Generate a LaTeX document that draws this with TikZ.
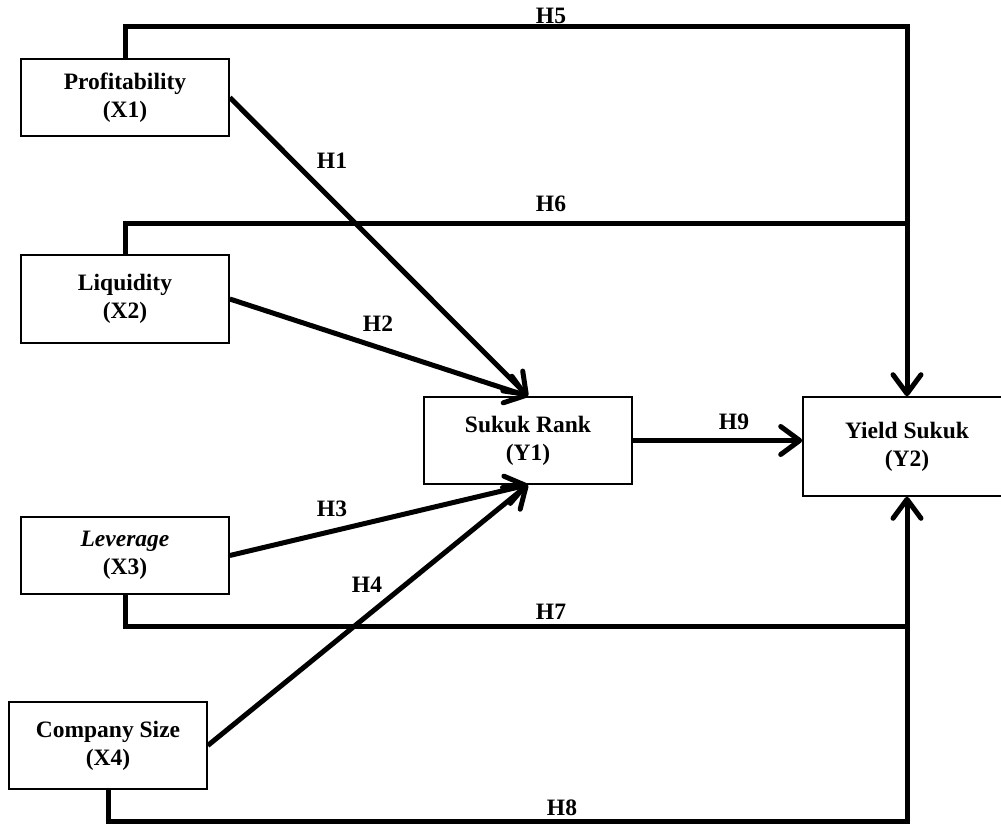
\documentclass[tikz,border=0pt]{standalone}
\usepackage{fontspec}
\setmainfont{Liberation Serif}
\usetikzlibrary{arrows.meta}
\begin{document}
\begin{tikzpicture}[x=1pt,y=-1pt,
  varbox/.style={draw, line width=1.6pt, minimum width=208pt, inner sep=0pt, align=center,
    font=\fontsize{23.5}{28}\selectfont\bfseries},
  link/.style={line width=5pt},
  arr/.style={link, -{Straight Barb[length=19pt,width=28pt,line cap=round,line join=round]}},
  hlab/.style={font=\fontsize{23.5}{28}\selectfont\bfseries, inner sep=0pt}]
\useasboundingbox (0,0) rectangle (1001,824);
\fill[white] (0,0) rectangle (1001,824);
% boxes
\node[varbox, minimum height=77pt] (x1) at (125,97.5) {Profitability\\(X1)};
\node[varbox, minimum height=88pt] (x2) at (125,299) {Liquidity\\(X2)};
\node[varbox, minimum height=77pt] (x3) at (125,555.5) {\textit{Leverage}\\(X3)};
\node[varbox, minimum width=198pt, minimum height=87pt] (x4) at (108,745.5) {Company Size\\(X4)};
\node[varbox, minimum height=87pt] (y1) at (528,440.5) {Sukuk Rank\\(Y1)};
\node[varbox, minimum height=99pt] (y2) at (907,446.5) {Yield Sukuk\\(Y2)};
% helper coordinates
\coordinate (t5) at (0,27);
\coordinate (t6) at (0,223);
\coordinate (t7) at (0,626);
\coordinate (t8) at (0,821);
% paths to Sukuk Rank
\draw[arr] (x1.east) -- (y1.north);
\draw[arr] (x2.east) -- (y1.north);
\draw[arr] (x3.east) -- (y1.south);
\draw[arr] (x4.east) -- (y1.south);
% H9
\draw[arr] (y1.east) -- (y1.east -| y2.west);
% H5 .. H8
\draw[arr] (x1.north) -- (x1.north |- t5) -- (y2.north |- t5) -- (y2.north);
\draw[link] (x2.north) -- (x2.north |- t6) -- ([xshift=2.5pt]y2.north |- t6);
\draw[link] (x3.south) -- (x3.south |- t7) -- ([xshift=2.5pt]y2.south |- t7);
\draw[arr] (x4.south) -- (x4.south |- t8) -- (y2.south |- t8) -- (y2.south);
% labels
\node[hlab] (h1) at (332,161) {H1};
\node[hlab] (h2) at (378,324) {H2};
\node[hlab] (h3) at (332,509) {H3};
\node[hlab] (h4) at (367,585) {H4};
\node[hlab] (h5) at (551,16) {H5};
\node[hlab] (h6) at (551,204) {H6};
\node[hlab] (h7) at (551,612) {H7};
\node[hlab] (h8) at (562,808) {H8};
\node[hlab] (h9) at (734,422) {H9};
\end{tikzpicture}
\end{document}
